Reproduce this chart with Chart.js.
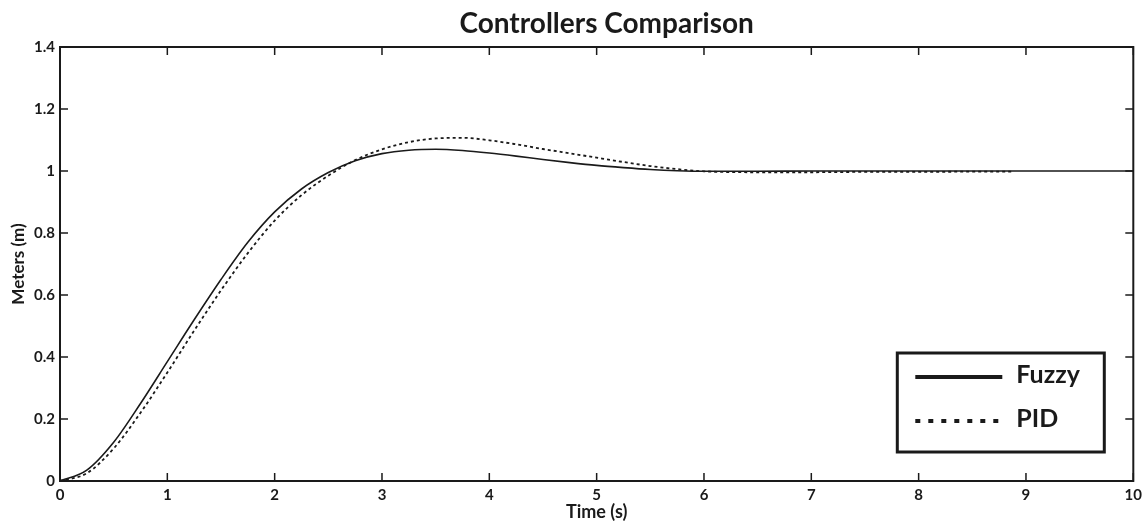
<!DOCTYPE html>
<html lang="en">
<head>
  <meta charset="UTF-8">
  <title>Controllers Comparison</title>
  <script src="https://cdn.jsdelivr.net/npm/chart.js"></script>
  <style>
    body { margin: 0; background: #fff; }
    #wrap { width: 1147px; height: 523px; }
  </style>
</head>
<body>
  <div id="wrap"><canvas id="grafico" width="1147" height="523"></canvas></div>
  <script>
    // tiempos (s) y respuesta (m)
    const tFuzzy = [0, 0.25, 0.5, 0.75, 1, 1.25, 1.5, 1.75, 2, 2.25, 2.5, 2.75, 3, 3.25, 3.5, 3.75, 4, 4.25, 4.5, 4.75, 5, 5.25, 5.5, 5.75, 6, 6.5, 7, 8, 9, 10];
    const fuzzy  = [0, 0.035, 0.125, 0.25, 0.385, 0.52, 0.65, 0.77, 0.868, 0.942, 0.995, 1.033, 1.056, 1.067, 1.07, 1.066, 1.058, 1.048, 1.037, 1.027, 1.018, 1.011, 1.005, 1.001, 0.999, 0.999, 1.0, 1.0, 1.0, 1.0];

    const tPid = [0, 0.25, 0.5, 0.75, 1, 1.25, 1.5, 1.75, 2, 2.25, 2.5, 2.75, 3, 3.25, 3.5, 3.75, 4, 4.25, 4.5, 4.75, 5, 5.25, 5.5, 5.75, 6, 6.5, 7, 7.5, 8, 8.5, 8.87];
    const pid  = [0, 0.025, 0.105, 0.22, 0.35, 0.485, 0.615, 0.735, 0.84, 0.922, 0.985, 1.035, 1.07, 1.093, 1.105, 1.107, 1.099, 1.086, 1.071, 1.057, 1.043, 1.029, 1.016, 1.006, 0.999, 0.996, 0.996, 0.997, 0.997, 0.998, 0.998];

    const xTicks = [0, 1, 2, 3, 4, 5, 6, 7, 8, 9, 10];
    const yTicks = [0, 0.2, 0.4, 0.6, 0.8, 1, 1.2, 1.4];

    const titulo = 'Controllers Comparison';
    const tinta = '#1a1a1a';
    const fuente = 'Lato, "Open Sans", sans-serif';

    // titulo, marco, ticks hacia adentro y leyenda
    const marcoPlugin = {
      id: 'marco',
      afterDraw(chart) {
        const ctx = chart.ctx;
        const a = chart.chartArea;
        const sx = chart.scales.x, sy = chart.scales.y;
        const L = 8;
        ctx.save();
        ctx.fillStyle = tinta;
        ctx.font = 'bold 28px ' + fuente;
        ctx.textAlign = 'center';
        ctx.textBaseline = 'alphabetic';
        ctx.fillText(titulo, (a.left + a.right) / 2 + 10, 33);

        ctx.strokeStyle = tinta;
        ctx.lineWidth = 2;
        ctx.strokeRect(a.left, a.top, a.right - a.left, a.bottom - a.top);
        ctx.lineWidth = 1.5;
        ctx.beginPath();
        xTicks.forEach(v => {
          const px = sx.getPixelForValue(v);
          ctx.moveTo(px, a.bottom); ctx.lineTo(px, a.bottom - L);
          ctx.moveTo(px, a.top); ctx.lineTo(px, a.top + L);
        });
        yTicks.forEach(v => {
          const py = sy.getPixelForValue(v);
          ctx.moveTo(a.left, py); ctx.lineTo(a.left + L, py);
          ctx.moveTo(a.right, py); ctx.lineTo(a.right - L, py);
        });
        ctx.stroke();

        // leyenda dentro del area
        const bx = a.right - 236, by = a.bottom - 128, bw = 207, bh = 99;
        ctx.fillStyle = '#fff';
        ctx.fillRect(bx, by, bw, bh);
        ctx.lineWidth = 3;
        ctx.strokeRect(bx, by, bw, bh);
        ctx.font = 'bold 25px ' + fuente;
        ctx.textAlign = 'left';
        ctx.textBaseline = 'middle';
        ctx.fillStyle = tinta;
        chart.data.datasets.forEach((ds, k) => {
          const yy = by + 24 + k * 44;
          ctx.beginPath();
          ctx.lineWidth = 4;
          ctx.setLineDash(k === 0 ? [] : [5, 8]);
          ctx.moveTo(bx + 18, yy); ctx.lineTo(bx + 105, yy);
          ctx.stroke();
          ctx.setLineDash([]);
          ctx.fillText(ds.label, bx + 119, yy - 2);
        });
        ctx.restore();
      }
    };

    new Chart(document.getElementById('grafico').getContext('2d'), {
      type: 'line',
      data: {
        datasets: [
          {
            label: 'Fuzzy',
            data: tFuzzy.map((t, i) => ({ x: t, y: fuzzy[i] })),
            borderColor: tinta,
            borderWidth: 1.6,
            pointRadius: 0,
            cubicInterpolationMode: 'monotone'
          },
          {
            label: 'PID',
            data: tPid.map((t, i) => ({ x: t, y: pid[i] })),
            borderColor: tinta,
            borderWidth: 1.8,
            borderDash: [3, 3],
            pointRadius: 0,
            cubicInterpolationMode: 'monotone'
          }
        ]
      },
      options: {
        responsive: false,
        animation: false,
        layout: { padding: { left: 8, right: 13, top: 47, bottom: 0 } },
        plugins: {
          legend: { display: false },
          tooltip: { enabled: false },
          title: { display: false }
        },
        scales: {
          x: {
            type: 'linear',
            min: 0, max: 10,
            afterBuildTicks: s => { s.ticks = xTicks.map(v => ({ value: v })); },
            afterFit: s => { s.height = 42; },
            grid: { display: false, drawTicks: false },
            border: { display: false },
            ticks: { color: tinta, padding: 5, font: { family: fuente, size: 15, weight: 'bold' } },
            title: { display: true, text: 'Time (s)', color: tinta, padding: 0, font: { family: fuente, size: 18, weight: 'bold' } }
          },
          y: {
            min: 0, max: 1.4,
            afterBuildTicks: s => { s.ticks = yTicks.map(v => ({ value: v })); },
            afterFit: s => { s.width = 52; },
            grid: { display: false, drawTicks: false },
            border: { display: false },
            ticks: {
              color: tinta, padding: 5,
              font: { family: fuente, size: 15, weight: 'bold' },
              callback: v => String(Number(v.toFixed(1)))
            },
            title: { display: true, text: 'Meters (m)', color: tinta, padding: 0, font: { family: fuente, size: 17, weight: 'bold' } }
          }
        }
      },
      plugins: [marcoPlugin]
    });
  </script>
</body>
</html>
